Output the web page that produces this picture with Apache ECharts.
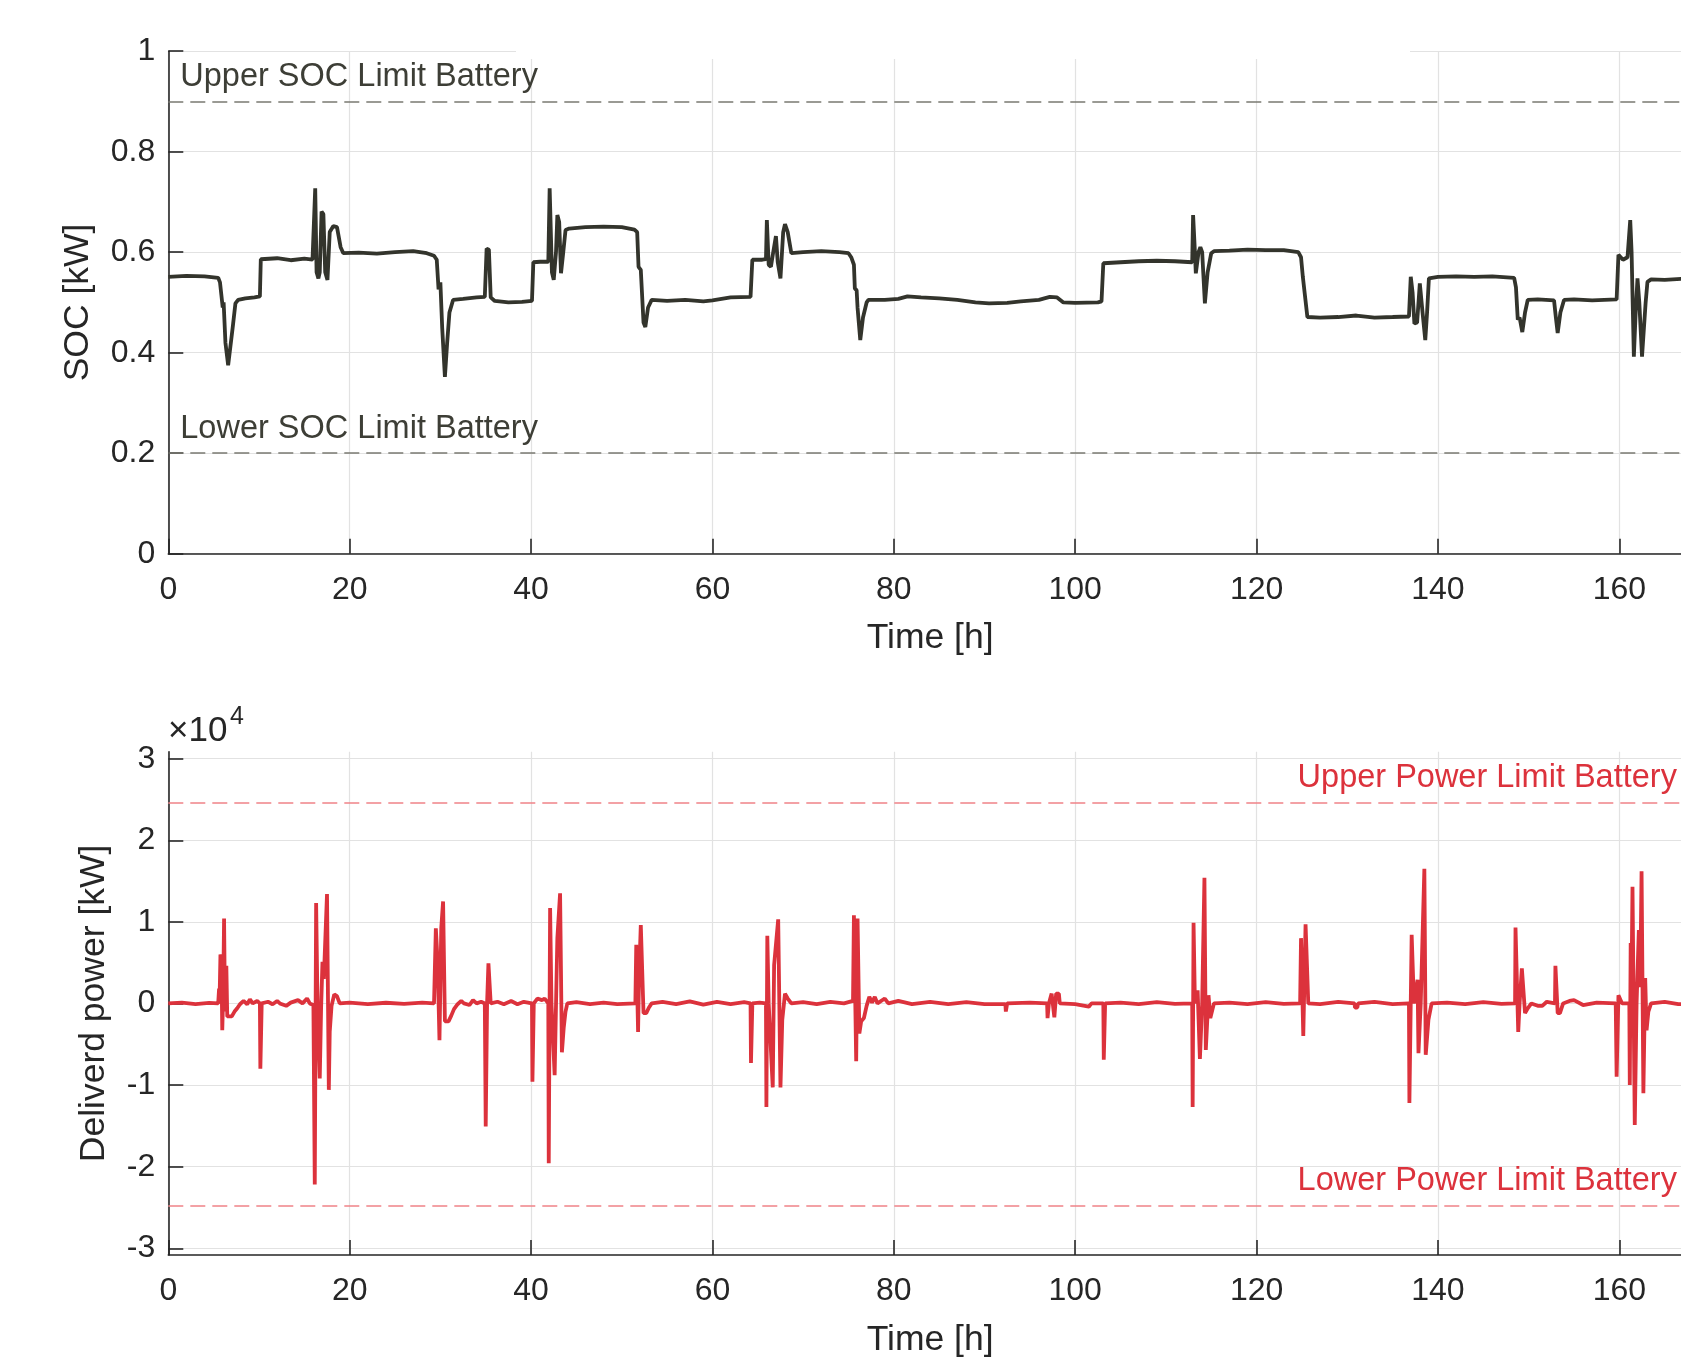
<!DOCTYPE html>
<html><head><meta charset="utf-8">
<script src="https://cdn.jsdelivr.net/npm/echarts@6.0.0/dist/echarts.min.js"></script>
<style>html,body{margin:0;padding:0;background:#fff}#c{width:1681px;height:1357px}</style>
</head><body><div id="c"></div><script>
// ---- data ----
const socTime = [0,2,4,5.5,5.7,5.85,6.0,6.1,6.3,6.6,6.8,7.1,7.4,7.7,8.5,9.5,10.1,10.2,12,13.5,15.0,15.9,16.1,16.2,16.35,16.55,16.7,16.9,17.1,17.3,17.55,17.8,18.2,18.6,19.0,19.3,21,23,25,27,28.5,29.3,29.6,29.8,30.0,30.2,30.5,30.75,31.0,31.4,32.5,34.0,34.9,35.1,35.35,35.55,36.0,37.5,39.0,40.1,40.25,41.0,41.9,42.05,42.3,42.5,42.75,42.9,43.1,43.3,43.55,43.8,44.2,46,48,50,51.4,51.7,51.85,52.1,52.4,52.6,52.9,53.3,55,57,59,60,62,64.2,64.4,65.5,65.9,66.0,66.2,66.45,66.7,67.0,67.2,67.5,67.8,68.0,68.3,68.7,70,72,74,75.0,75.3,75.6,75.7,75.9,76.0,76.3,76.6,77.0,77.2,79,80.5,81.5,83,85,87,89,90.5,92.5,94,96,97.2,98.0,98.7,100,102.5,102.9,103.1,105,107,109,111,112.9,113.0,113.2,113.3,113.6,113.8,114.0,114.3,114.6,115.0,115.3,117,119,121,123,124.6,124.9,125.1,125.3,125.6,127,129,131,133,135,136.8,137.0,137.2,137.4,137.7,138.0,138.3,138.6,138.8,139.0,140,142,144,146,148.4,148.6,148.8,149.0,149.3,149.6,149.9,151,152.8,153.0,153.2,153.5,153.9,155,157,159.7,159.9,160.4,160.9,161.2,161.35,161.6,161.8,162.0,162.2,162.5,162.7,162.9,163.1,163.5,165,167,168];
const socValue = [0.551,0.553,0.552,0.549,0.540,0.515,0.490,0.500,0.420,0.375,0.378,0.450,0.498,0.505,0.508,0.510,0.512,0.586,0.588,0.584,0.587,0.585,0.586,0.727,0.560,0.548,0.560,0.681,0.676,0.560,0.545,0.640,0.652,0.650,0.610,0.598,0.599,0.597,0.600,0.602,0.598,0.593,0.585,0.526,0.540,0.450,0.352,0.420,0.480,0.505,0.507,0.510,0.511,0.607,0.605,0.510,0.503,0.500,0.501,0.503,0.580,0.581,0.581,0.727,0.560,0.545,0.600,0.674,0.660,0.558,0.600,0.644,0.647,0.650,0.651,0.650,0.645,0.640,0.571,0.565,0.460,0.451,0.490,0.505,0.503,0.505,0.502,0.504,0.510,0.511,0.585,0.585,0.586,0.664,0.575,0.571,0.600,0.632,0.580,0.548,0.640,0.656,0.640,0.598,0.600,0.602,0.600,0.598,0.590,0.575,0.528,0.524,0.490,0.425,0.470,0.500,0.505,0.505,0.507,0.512,0.510,0.508,0.505,0.500,0.498,0.499,0.502,0.505,0.511,0.510,0.500,0.499,0.500,0.502,0.578,0.580,0.582,0.583,0.582,0.580,0.674,0.600,0.558,0.600,0.610,0.600,0.498,0.560,0.598,0.602,0.603,0.605,0.604,0.604,0.600,0.590,0.551,0.548,0.471,0.470,0.471,0.474,0.470,0.471,0.472,0.551,0.520,0.458,0.460,0.538,0.480,0.425,0.480,0.548,0.551,0.552,0.551,0.552,0.549,0.530,0.466,0.470,0.441,0.480,0.505,0.506,0.504,0.470,0.439,0.480,0.505,0.506,0.504,0.506,0.595,0.585,0.590,0.664,0.600,0.392,0.480,0.548,0.500,0.392,0.392,0.500,0.541,0.546,0.545,0.547,0.546];

// delivered power readings: [time h, power kW]
const powerReadings = [
 [0,0],[1.5,100],[3,-80],[4.5,60],[5.5,0],
 [5.55,0],[5.6,1800],[5.65,300],[5.75,6000],[5.85,5500],[5.95,-3300],[6.05,1000],[6.15,10400],[6.25,-1000],[6.4,4600],[6.5,-1600],[6.7,-1700],[7.0,-1600],[7.3,-1000],[7.6,-600],[7.9,-100],[8.3,300],[8.7,-100],[9.0,500],[9.3,0],[9.8,300],[10.1,0],[10.15,-8000],[10.25,-8000],[10.3,0],[11.0,200],[11.5,-100],[12,300],[12.3,0],[13,-300],[13.5,100],[14.3,400],[14.8,0],[15.3,600],[15.6,0],[16.0,-200],
 [16.1,0],[16.15,-22200],[16.25,-22200],[16.3,12300],[16.4,12300],[16.45,0],[16.7,-9200],[16.8,-9200],[16.85,-500],[17.0,5100],[17.15,3000],[17.5,13400],[17.6,13400],[17.7,-10600],[17.8,-3500],[18.0,-300],[18.3,1100],[18.6,900],[18.9,0],
 [20,100],[22,-100],[24,80],[26,-60],[28,100],[29.3,0],
 [29.4,200],[29.5,9200],[29.6,9300],[29.7,5000],[29.9,-4500],[30.05,-4500],[30.1,9300],[30.3,12500],[30.4,12500],[30.5,-2200],[30.9,-2200],[31.2,-1500],[31.5,-700],[31.9,-100],[32.3,300],[32.6,0],[33.2,-200],[33.6,400],[34.0,0],[34.5,200],[34.9,0],
 [35.0,-15100],[35.1,-15100],[35.15,0],[35.3,4900],[35.4,4900],[35.55,0],[36.3,200],[37,-100],[37.8,300],[38.5,-100],[39.2,200],[40.1,0],[40.15,-9600],[40.25,-9600],[40.3,0],[40.7,600],[41.2,400],[41.5,600],[41.9,0],
 [41.95,-19600],[42.05,-19600],[42.1,11700],[42.2,11700],[42.25,0],[42.6,-8800],[42.7,-8800],[42.8,2600],[42.9,8000],[43.2,13500],[43.3,13500],[43.4,-6000],[43.5,-6000],[43.6,-3000],[43.8,-1000],[44.0,0],
 [45,150],[46.5,-100],[48,100],[49.5,-80],[51.5,0],
 [51.6,7200],[51.7,7200],[51.8,-3500],[51.9,2800],[52.1,9600],[52.2,9600],[52.4,-1200],[52.7,-1200],[53.0,-500],[53.3,0],
 [54.5,200],[56,-100],[57.5,250],[59,-150],[60.5,200],[62,-100],[63.5,150],[64.2,0],[64.25,-7300],[64.35,-7300],[64.4,0],[65.2,100],[65.9,0],
 [65.95,-12700],[66.0,-12700],[66.05,8300],[66.15,8300],[66.2,0],[66.65,-10300],[66.75,-10300],[66.8,4700],[67.25,10300],[67.35,10300],[67.5,-10300],[67.6,-10300],[67.7,-2000],[68.0,1200],[68.3,600],[68.7,0],
 [70,150],[71.5,-100],[73,200],[74.5,0],[75.5,300],
 [75.6,10800],[75.75,10800],[75.85,-7100],[76.0,10400],[76.1,10400],[76.2,-3700],[76.4,-2200],[76.7,-1800],[77.0,-300],[77.3,800],[77.6,100],[77.9,800],[78.2,0],[79,600],[79.4,0],[80.5,300],[82,-100],[84,200],[86,-100],[88,150],[90,-100],
 [92.3,-100],[92.35,-1000],[92.45,-1000],[92.5,0],[95,100],[96.9,0],[96.95,-1800],[97.05,-1800],[97.1,0],[97.4,1200],[97.6,1200],[97.7,-1700],[97.8,-1700],[97.9,1200],[98.2,1200],[98.3,0],[100,-100],[101.5,-400],[101.8,0],[103.1,0],[103.15,-6900],[103.25,-6900],[103.3,0],[105,100],[107,-100],[109,150],[111,-50],[112.9,0],
 [112.95,-12700],[113.0,-12700],[113.05,9900],[113.15,9900],[113.2,0],[113.5,1600],[113.75,-6800],[113.85,-6800],[114.0,0],[114.25,15400],[114.35,15400],[114.4,-5700],[114.7,1000],[114.9,-1800],[115.1,-1800],[115.3,0],
 [117,100],[119,-100],[121,150],[123,-50],[124.8,0],
 [124.9,8000],[125.0,8000],[125.15,-4000],[125.25,-4000],[125.4,9700],[125.5,9700],[125.7,0],
 [127,-100],[129,200],[130.8,0],[130.85,-500],[131.1,-500],[131.2,0],[133,200],[135,-100],[136.8,0],
 [136.85,-12200],[136.95,-12200],[137.1,8400],[137.2,8400],[137.35,0],[137.75,2900],[137.85,-6100],[138.0,-6100],[138.1,0],[138.5,16500],[138.6,16500],[138.65,-6300],[138.75,-6300],[138.95,-2000],[139.3,0],
 [141,100],[143,-100],[145,150],[147,-50],[148.5,0],
 [148.55,9300],[148.65,9300],[148.85,-3500],[149.0,0],[149.25,4300],[149.35,4300],[149.6,-1200],[149.9,-600],[150.3,0],[151,-300],[151.5,-300],[152,200],[152.9,0],[152.95,4600],[153.1,4600],[153.2,-1200],[153.45,-1200],[153.8,0],[154.5,300],[155,400],[156,-200],[157.5,100],[159.6,0],
 [159.7,-9000],[159.85,-9000],[159.9,1000],[160.1,1000],[160.3,0],[161.1,0],[161.15,-10000],[161.25,7400],[161.3,-2000],[161.45,14300],[161.55,14300],[161.7,-14900],[161.8,-14900],[161.9,0],[162.15,9000],[162.3,2000],[162.45,16200],[162.55,16200],[162.65,-11000],[162.75,-11000],[162.85,3100],[163.0,-3300],[163.2,-1000],[163.5,0],[165,200],[166.5,-100],[168,0]
];

const socLimitValues = [0.9, 0.2];
const socLimitNames = ['Upper SOC Limit Battery', 'Lower SOC Limit Battery'];
const powerLimitValues = [24600, -24800];
const powerLimitNames = ['Upper Power Limit Battery', 'Lower Power Limit Battery'];
const timeRange = [0, 168];
const socRange = [0, 1];
const powerTicks = [-30000, -20000, -10000, 0, 10000, 20000, 30000];
const powerRange = [-30850, 30850];

// ---- styling ----
const FONT = '"Liberation Sans", Arial, Helvetica, sans-serif';
const INK = '#262626';
const GRID = '#e2e2e2';
const SOC_COLOR = '#33342c';
const SOC_TEXT = '#3d3e36';
const SOC_DASH = '#7a7a72';
const RED = '#dc323c';
const RED_DASH = '#f08388';

const L = 168.3, W = 1523.6;

function pairs(a, b) { return a.map((t, i) => [t, b[i]]); }

const xBase = (gridIndex) => ({
  type: 'value', gridIndex, min: timeRange[0], max: timeRange[1], interval: 20,
  axisLine: { onZero: false, lineStyle: { color: INK, width: 1.6 } },
  axisTick: { inside: true, length: 15, lineStyle: { color: INK, width: 1.6 } },
  axisLabel: { color: INK, fontFamily: FONT, fontSize: 32, margin: 20, showMaxLabel: false },
  splitLine: { show: true, lineStyle: { color: GRID, width: 1.2 } },
  name: 'Time [h]', nameLocation: 'middle', nameGap: 67,
  nameTextStyle: { color: INK, fontFamily: FONT, fontSize: 35.5 }
});

const option = {
  animation: false,
  backgroundColor: '#ffffff',
  grid: [
    { left: L, top: 51.2, width: W, height: 502.5, outerBoundsMode: 'none', containLabel: false },
    { left: L, top: 751.8, width: W, height: 503.2, outerBoundsMode: 'none', containLabel: false },
    { left: L, top: 758.7, width: W, height: 489.6, outerBoundsMode: 'none', containLabel: false }
  ],
  xAxis: [
    xBase(0),
    xBase(1),
    { type: 'value', gridIndex: 2, min: timeRange[0], max: timeRange[1], show: false }
  ],
  yAxis: [
    { type: 'value', gridIndex: 0, min: socRange[0], max: socRange[1], interval: 0.2,
      axisLine: { show: true, lineStyle: { color: INK, width: 1.6 } },
      axisTick: { show: true, inside: true, length: 15, lineStyle: { color: INK, width: 1.6 } },
      axisLabel: { color: INK, fontFamily: FONT, fontSize: 32, margin: 13,
        formatter: v => String(Number(v.toFixed(2))) },
      splitLine: { show: true, lineStyle: { color: GRID, width: 1.2 } },
      name: 'SOC [kW]', nameLocation: 'middle', nameGap: 72,
      nameTextStyle: { color: INK, fontFamily: FONT, fontSize: 35.5 } },
    { type: 'value', gridIndex: 1, min: powerRange[0], max: powerRange[1],
      axisLine: { show: true, onZero: false, lineStyle: { color: INK, width: 1.6 } },
      axisTick: { show: false }, axisLabel: { show: false }, splitLine: { show: false },
      name: 'Deliverd power [kW]', nameLocation: 'middle', nameGap: 56,
      nameTextStyle: { color: INK, fontFamily: FONT, fontSize: 35.5 } },
    { type: 'value', gridIndex: 2, min: powerTicks[0], max: powerTicks[powerTicks.length - 1], interval: 10000,
      axisLine: { show: false },
      axisTick: { show: true, inside: true, length: 15, lineStyle: { color: INK, width: 1.6 } },
      axisLabel: { color: INK, fontFamily: FONT, fontSize: 32, margin: 13,
        formatter: v => String(Math.round(v / 10000)) },
      splitLine: { show: true, lineStyle: { color: GRID, width: 1.2 } } }
  ],
  series: [
    { type: 'line', xAxisIndex: 0, yAxisIndex: 0, data: pairs(socTime, socValue),
      showSymbol: false, symbol: 'none', lineStyle: { color: SOC_COLOR, width: 3.8 }, z: 3,
      markLine: { silent: true, symbol: 'none',
        lineStyle: { color: SOC_DASH, type: [15, 7], width: 1.6 },
        label: { show: true, position: 'insideStartTop', distance: [12, 8],
          color: SOC_TEXT, fontFamily: FONT, fontSize: 32.5, formatter: p => p.name },
        data: socLimitValues.map((v, i) => ({ yAxis: v, name: socLimitNames[i] })) } },
    { type: 'line', xAxisIndex: 1, yAxisIndex: 1, data: powerReadings,
      showSymbol: false, symbol: 'none', lineStyle: { color: RED, width: 3.8 }, z: 3,
      markLine: { silent: true, symbol: 'none',
        lineStyle: { color: RED_DASH, type: [15, 7], width: 1.6 },
        label: { show: true, position: 'insideEndTop', distance: [15, 8],
          color: RED, fontFamily: FONT, fontSize: 32.5, formatter: p => p.name },
        data: powerLimitValues.map((v, i) => ({ yAxis: v, name: powerLimitNames[i] })) } }
  ],
  graphic: [
    { type: 'rect', shape: { x: 516, y: 40, width: 894, height: 19 }, style: { fill: '#ffffff' }, z: 50 },
    { type: 'text', x: 168, y: 731, style: { text: '×10', fill: INK, font: '35px ' + FONT, verticalAlign: 'middle' }, z: 50 },
    { type: 'text', x: 230, y: 717, style: { text: '4', fill: INK, font: '25px ' + FONT, verticalAlign: 'middle' }, z: 50 }
  ]
};

const chart = echarts.init(document.getElementById('c'), null, { renderer: 'canvas' });
chart.setOption(option);
</script></body></html>
